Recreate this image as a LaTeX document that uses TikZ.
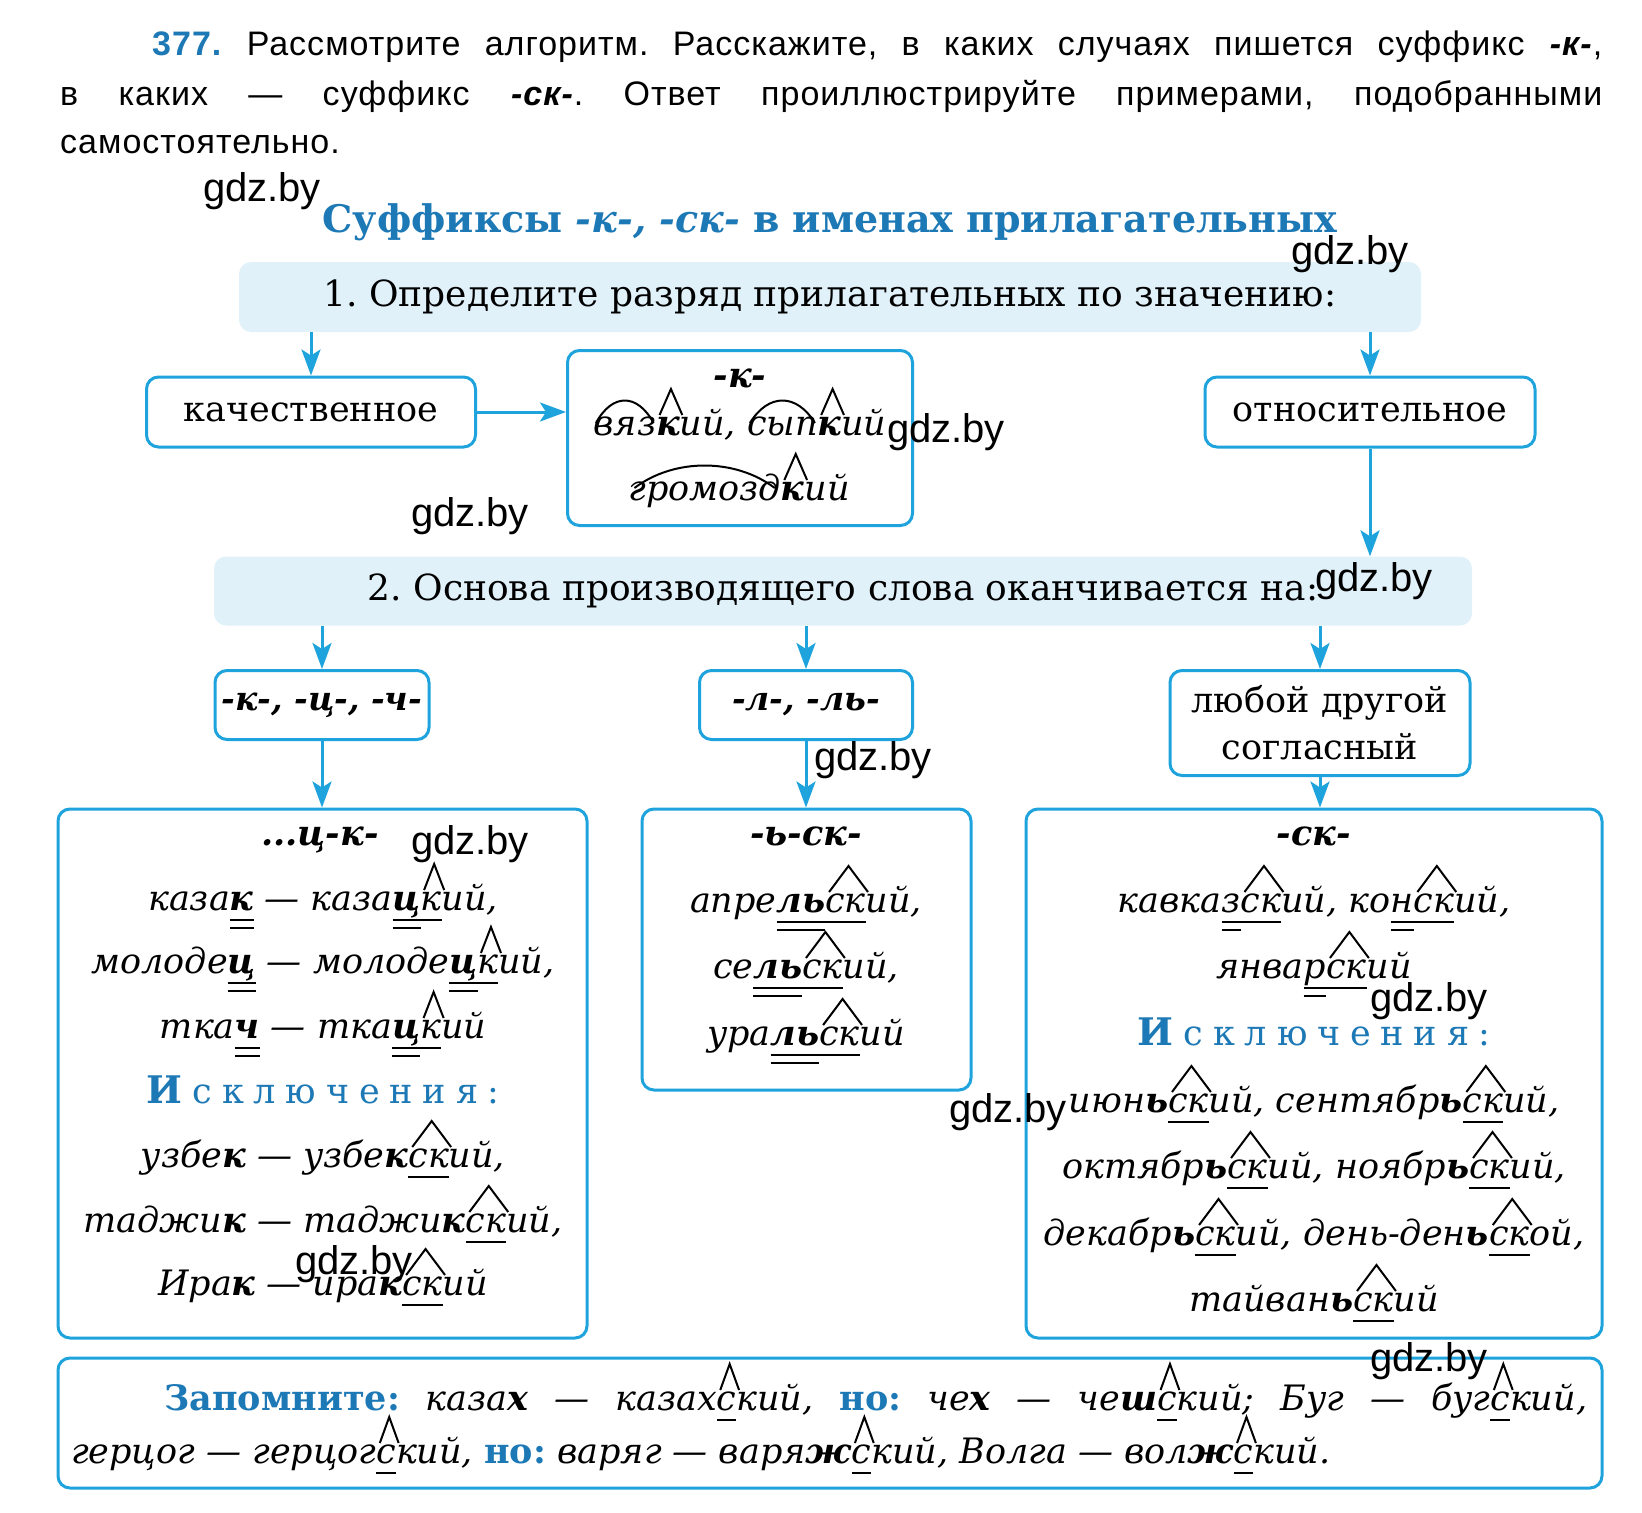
\documentclass[tikz,border=0pt]{standalone}
\usepackage{fontspec}
\setmainfont{DejaVu Serif}
\newfontfamily\sansf{Liberation Sans}
\newfontfamily\parafont{Liberation Sans}[LetterSpace=3]
\usetikzlibrary{positioning,arrows.meta}

\definecolor{cyanb}{HTML}{1FA3DC}
\definecolor{lightb}{HTML}{E0F1FA}
\definecolor{tblue}{HTML}{1D79B6}

\newbox\mkbox
\newbox\lnbox
\newdimen\mkw
% roof over a suffix
\newcommand{\rf}[1]{\setbox\mkbox=\hbox{#1}\mkw=\wd\mkbox\relax
  \rlap{\tikz[overlay,baseline=0pt,x=\mkw,y=1pt]\draw[line width=2pt,black,xshift=3pt] (0.02,20) -- (0.5,46) -- (0.98,20);}\box\mkbox}
% arc over a root
\newcommand{\arc}[1]{\setbox\mkbox=\hbox{#1}\mkw=\wd\mkbox\relax
  \rlap{\tikz[overlay,baseline=0pt,x=\mkw,y=1pt]\draw[line width=2pt,black] (0.04,12) .. controls (0.3,42) and (0.7,42) .. (0.96,12);}\box\mkbox}
% single and double underline
\newcommand{\ul}[1]{\setbox\lnbox=\hbox{#1}\rlap{\rule[-11pt]{\wd\lnbox}{2pt}}\box\lnbox}
\newcommand{\dl}[1]{\setbox\lnbox=\hbox{#1}\rlap{\rule[-11pt]{\wd\lnbox}{2pt}}\rlap{\rule[-19pt]{\wd\lnbox}{2pt}}\box\lnbox}
\newcommand{\excl}{{\color{tblue}\addfontfeature{LetterSpace=28}{\fontsize{38}{40}\selectfont\textbf{И}}сключения:}}

\begin{document}
\frenchspacing
\begin{tikzpicture}[x=1pt,y=-1pt,
  bx/.style={draw=cyanb,line width=3pt,rounded corners=12pt,fill=white,inner sep=0pt},
  hdr/.style={fill=lightb,rounded corners=12pt,inner sep=0pt},
  arr/.style={draw=cyanb,line width=3pt,-{Stealth[length=26pt,width=19pt,inset=6pt]}},
  dtx/.style={font=\fontsize{35}{47}\selectfont,inner sep=0pt,anchor=base},
  itx/.style={font=\fontsize{35}{47}\selectfont\itshape,inner sep=0pt,anchor=base},
  para/.style={font=\parafont\fontsize{34}{40}\selectfont,inner sep=0pt,anchor=base west},
  wm/.style={font=\sansf\fontsize{40}{42}\selectfont,inner sep=0pt}]
  \useasboundingbox (0,0) rectangle (1642,1513);

  % task text
  \node[para] (p1) at (152,55) {\makebox[1450pt][s]{\textcolor{tblue}{\textbf{377.}} Рассмотрите алгоритм. Расскажите, в каких случаях пишется суффикс \textbf{\textit{-к-}},}};
  \node[para] (p2) at (60,105) {\makebox[1542pt][s]{в каких — суффикс \textbf{\textit{-ск-}}. Ответ проиллюстрируйте примерами, подобранными}};
  \node[para] (p3) at (60,153) {самостоятельно.};

  % title
  \node[anchor=base,inner sep=0pt,text=tblue,font=\bfseries\fontsize{38}{44}\selectfont] (title) at (830,232) {Суффиксы \textit{-к-, -ск-} в именах прилагательных};

  % step 1
  \node[hdr,minimum width=1182pt,minimum height=70pt,font=\fontsize{36}{40}\selectfont] (step1) at (830,297) {1. Определите разряд прилагательных по значению:};
  \node[bx,minimum width=329pt,minimum height=70pt,font=\fontsize{35}{40}\selectfont] (kach) at (311,412) {качественное};
  \node[bx,minimum width=345pt,minimum height=175pt] (kbox) at (740,438) {};
  \node[bx,minimum width=330pt,minimum height=70pt,font=\fontsize{35}{40}\selectfont] (otn) at (1370,412) {относительное};

  \node[itx] (k0) at (740,387) {\textbf{-к-}};
  \node[itx] (k1) at (740,435) {\arc{вяз}\rf{\textbf{к}}ий, \arc{сып}\rf{\textbf{к}}ий};
  \node[itx] (k2) at (739,500) {\arc{громозд}\rf{\textbf{к}}ий};

  \draw[arr] (step1.south -| kach.north) -- (kach.north);
  \draw[arr] (step1.south -| otn.north) -- (otn.north);
  \draw[arr] (kach.east) -- (kach.east -| kbox.west);

  % step 2
  \node[hdr,minimum width=1258pt,minimum height=69pt,font=\fontsize{36}{40}\selectfont] (step2) at (843,591) {2. Основа производящего слова оканчивается на:};
  \draw[arr] (otn.south) -- (otn.south |- step2.north);

  \node[bx,minimum width=214pt,minimum height=69pt,font=\fontsize{33}{40}\selectfont\itshape] (kc) at (322,705) {\textbf{-к-, -ц-, -ч-}};
  \node[bx,minimum width=213pt,minimum height=69pt,font=\fontsize{33}{40}\selectfont\itshape] (ll) at (806,705) {\textbf{-л-, -ль-}};
  \node[bx,minimum width=300pt,minimum height=105pt,align=center,font=\fontsize{35}{47}\selectfont] (oth) at (1320,723) {любой другой\\согласный};

  \draw[arr] (step2.south -| kc.north) -- (kc.north);
  \draw[arr] (step2.south -| ll.north) -- (ll.north);
  \draw[arr] (step2.south -| oth.north) -- (oth.north);

  \node[bx,minimum width=529pt,minimum height=529pt] (colA) at (322.5,1073.5) {};
  \node[bx,minimum width=329pt,minimum height=281pt] (colB) at (806.5,949.5) {};
  \node[bx,minimum width=576pt,minimum height=529pt] (colC) at (1314,1073.5) {};

  \draw[arr] (kc.south) -- (kc.south |- colA.north);
  \draw[arr] (ll.south) -- (ll.south |- colB.north);
  \draw[arr] (oth.south) -- (oth.south |- colC.north);

  % column A
  \node[itx] (a0) at (320,845) {\textbf{...ц-к-}};
  \node[itx] (a1) at (323,910) {каза\dl{\textbf{к}} — каза\dl{\textbf{ц}}\rf{\ul{к}}ий,};
  \node[itx] (a2) at (323,973) {молоде\dl{\textbf{ц}} — молоде\dl{\textbf{ц}}\rf{\ul{к}}ий,};
  \node[itx] (a3) at (323,1038) {тка\dl{\textbf{ч}} — тка\dl{\textbf{ц}}\rf{\ul{к}}ий};
  \node[dtx] (a4) at (323,1103) {\excl};
  \node[itx] (a5) at (323,1167) {узбе\textbf{к} — узбе\textbf{к}\rf{\ul{ск}}ий,};
  \node[itx] (a6) at (323,1232) {таджи\textbf{к} — таджи\textbf{к}\rf{\ul{ск}}ий,};
  \node[itx] (a7) at (323,1295) {Ира\textbf{к} — ира\textbf{к}\rf{\ul{ск}}ий};

  % column B
  \node[itx] (b0) at (806,845) {\textbf{-ь-ск-}};
  \node[itx] (b1) at (806,912) {апре\dl{\textbf{ль}}\rf{\ul{ск}}ий,};
  \node[itx] (b2) at (806,978) {се\dl{\textbf{ль}}\rf{\ul{ск}}ий,};
  \node[itx] (b3) at (806,1045) {ура\dl{\textbf{ль}}\rf{\ul{ск}}ий};

  % column C
  \node[itx] (c0) at (1314,845) {\textbf{-ск-}};
  \node[itx] (c1) at (1314,912) {кавка\dl{з}\rf{\ul{ск}}ий, ко\dl{н}\rf{\ul{ск}}ий,};
  \node[itx] (c2) at (1314,978) {янва\dl{р}\rf{\ul{ск}}ий};
  \node[dtx] (c3) at (1314,1045) {\excl};
  \node[itx] (c4) at (1314,1112) {июн\textbf{ь}\rf{\ul{ск}}ий, сентябр\textbf{ь}\rf{\ul{ск}}ий,};
  \node[itx] (c5) at (1314,1178) {октябр\textbf{ь}\rf{\ul{ск}}ий, ноябр\textbf{ь}\rf{\ul{ск}}ий,};
  \node[itx] (c6) at (1314,1245) {декабр\textbf{ь}\rf{\ul{ск}}ий, день-ден\textbf{ь}\rf{\ul{ск}}ой,};
  \node[itx] (c7) at (1314,1311) {тайван\textbf{ь}\rf{\ul{ск}}ий};

  % remember
  \node[bx,minimum width=1544pt,minimum height=130pt] (memo) at (830,1423) {};
  \node[itx,anchor=base west] (m1) at (164,1410) {\makebox[1423pt][s]{\textcolor{tblue}{\upshape\bfseries Запомните:} каза\textbf{х} — казах\rf{\ul{с}}кий, \textcolor{tblue}{\upshape\bfseries но:} че\textbf{х} — че\textbf{ш}\rf{\ul{с}}кий; Буг — буг\rf{\ul{с}}кий,}};
  \node[itx,anchor=base west] (m2) at (71,1463) {герцог — герцог\rf{\ul{с}}кий, \textcolor{tblue}{\upshape\bfseries но:} варяг — варя\textbf{ж}\rf{\ul{с}}кий, Волга — вол\textbf{ж}\rf{\ul{с}}кий.};

  % watermarks
  \node[wm] (w1) at (262,191) {gdz.by};
  \node[wm] (w2) at (1350,254) {gdz.by};
  \node[wm] (w3) at (946,432) {gdz.by};
  \node[wm] (w4) at (470,516) {gdz.by};
  \node[wm] (w5) at (1374,581) {gdz.by};
  \node[wm] (w6) at (873,760) {gdz.by};
  \node[wm] (w7) at (470,844) {gdz.by};
  \node[wm] (w8) at (1429,1001) {gdz.by};
  \node[wm] (w9) at (1008,1112) {gdz.by};
  \node[wm] (w10) at (354,1264) {gdz.by};
  \node[wm] (w11) at (1429,1361) {gdz.by};
\end{tikzpicture}
\end{document}
